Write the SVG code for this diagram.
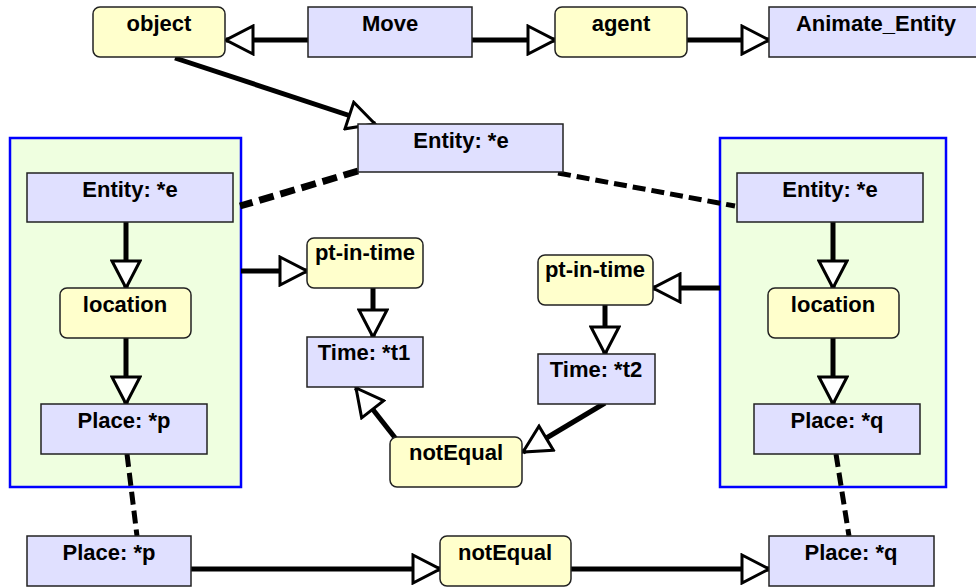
<svg xmlns="http://www.w3.org/2000/svg" width="976" height="588" viewBox="0 0 976 588">
  <style>
    .concept { fill: #e0e0ff; stroke: #222; stroke-width: 1.5; }
    .relation { fill: #ffffcc; stroke: #222; stroke-width: 1.5; }
    .context { fill: #efffe0; stroke: #0000ff; stroke-width: 2.5; }
    .label { font-family: "Liberation Sans", Arial, sans-serif; font-weight: bold; font-size: 22px; fill: #000; text-anchor: middle; }
    .arc { stroke: #000; stroke-width: 5; fill: none; marker-end: url(#head); }
    .coref { stroke: #000; stroke-width: 5; fill: none; stroke-dasharray: 13 6; }
  </style>
  <defs>
    <marker id="head" markerUnits="userSpaceOnUse" markerWidth="32" markerHeight="32" viewBox="-2 -2 32 32" refX="27" refY="14" orient="auto">
      <path d="M0,0 L27,14 L0,28 Z" fill="#fff" stroke="#000" stroke-width="3" stroke-linejoin="miter"/>
    </marker>
  </defs>

  <!-- contexts -->
  <g id="context-left"><rect class="context" x="10" y="138" width="231" height="349"/></g>
  <g id="context-right"><rect class="context" x="720" y="138" width="226" height="349"/></g>

  <!-- connectors -->
  <g id="connectors">
    <line class="arc" x1="308" y1="40" x2="226" y2="40"/>
    <line class="arc" x1="472" y1="40" x2="555" y2="40"/>
    <line class="arc" x1="687" y1="40" x2="769" y2="40"/>
    <line class="arc" x1="175" y1="58" x2="375" y2="124"/>
    <line class="arc" x1="126" y1="222" x2="126" y2="288"/>
    <line class="arc" x1="126" y1="338" x2="126" y2="404"/>
    <line class="arc" x1="833" y1="222" x2="833" y2="288"/>
    <line class="arc" x1="833" y1="338" x2="833" y2="404"/>
    <line class="arc" x1="241" y1="271" x2="307" y2="271"/>
    <line class="arc" x1="720" y1="288" x2="653" y2="288"/>
    <line class="arc" x1="373" y1="288" x2="373" y2="337"/>
    <line class="arc" x1="605" y1="305" x2="605" y2="354"/>
    <line class="arc" x1="407" y1="453" x2="356" y2="388"/>
    <line class="arc" x1="605" y1="403" x2="523" y2="452"/>
    <line class="arc" x1="191" y1="569" x2="440" y2="569"/>
    <line class="arc" x1="571" y1="569" x2="769" y2="569"/>
    <line class="coref" x1="358" y1="171" x2="240" y2="206" style="stroke-width:7; stroke-dasharray:15 7"/>
    <line class="coref" x1="558" y1="173" x2="735" y2="206"/>
    <line class="coref" x1="127" y1="454" x2="137" y2="536"/>
    <line class="coref" x1="836" y1="454" x2="849" y2="536"/>
  </g>

  <!-- top row -->
  <g id="object"><rect class="relation" x="93" y="7" width="132" height="50" rx="7"/><text class="label" x="159" y="31">object</text></g>
  <g id="move"><rect class="concept" x="308" y="7" width="164" height="50"/><text class="label" x="390" y="31">Move</text></g>
  <g id="agent"><rect class="relation" x="555" y="7" width="132" height="50" rx="7"/><text class="label" x="621" y="31">agent</text></g>
  <g id="animate-entity"><rect class="concept" x="769" y="7" width="220" height="50"/><text class="label" x="876" y="31">Animate_Entity</text></g>
  <g id="entity-e"><rect class="concept" x="358" y="124" width="205" height="48"/><text class="label" x="461" y="148">Entity: *e</text></g>

  <!-- left context contents -->
  <g id="entity-e-left"><rect class="concept" x="27" y="173" width="206" height="49"/><text class="label" x="130" y="197">Entity: *e</text></g>
  <g id="location-left"><rect class="relation" x="60" y="288" width="131" height="50" rx="7"/><text class="label" x="125" y="312">location</text></g>
  <g id="place-p-left"><rect class="concept" x="41" y="404" width="166" height="50"/><text class="label" x="124" y="428">Place: *p</text></g>

  <!-- right context contents -->
  <g id="entity-e-right"><rect class="concept" x="737" y="173" width="186" height="49"/><text class="label" x="830" y="197">Entity: *e</text></g>
  <g id="location-right"><rect class="relation" x="768" y="288" width="131" height="50" rx="7"/><text class="label" x="833" y="312">location</text></g>
  <g id="place-q-right"><rect class="concept" x="754" y="404" width="166" height="50"/><text class="label" x="837" y="428">Place: *q</text></g>

  <!-- time relations -->
  <g id="pt-in-time-1"><rect class="relation" x="307" y="238" width="116" height="50" rx="7"/><text class="label" x="365" y="260">pt-in-time</text></g>
  <g id="time-t1"><rect class="concept" x="307" y="337" width="116" height="50"/><text class="label" x="364" y="360">Time: *t1</text></g>
  <g id="pt-in-time-2"><rect class="relation" x="538" y="255" width="115" height="50" rx="7"/><text class="label" x="595" y="277">pt-in-time</text></g>
  <g id="time-t2"><rect class="concept" x="538" y="354" width="117" height="50"/><text class="label" x="596" y="377">Time: *t2</text></g>
  <g id="not-equal-time"><rect class="relation" x="390" y="437" width="132" height="50" rx="7"/><text class="label" x="456" y="460">notEqual</text></g>

  <!-- bottom row -->
  <g id="place-p"><rect class="concept" x="27" y="536" width="164" height="50"/><text class="label" x="109" y="560">Place: *p</text></g>
  <g id="not-equal-place"><rect class="relation" x="440" y="536" width="131" height="50" rx="7"/><text class="label" x="505" y="560">notEqual</text></g>
  <g id="place-q"><rect class="concept" x="769" y="536" width="165" height="50"/><text class="label" x="851" y="560">Place: *q</text></g>
</svg>
